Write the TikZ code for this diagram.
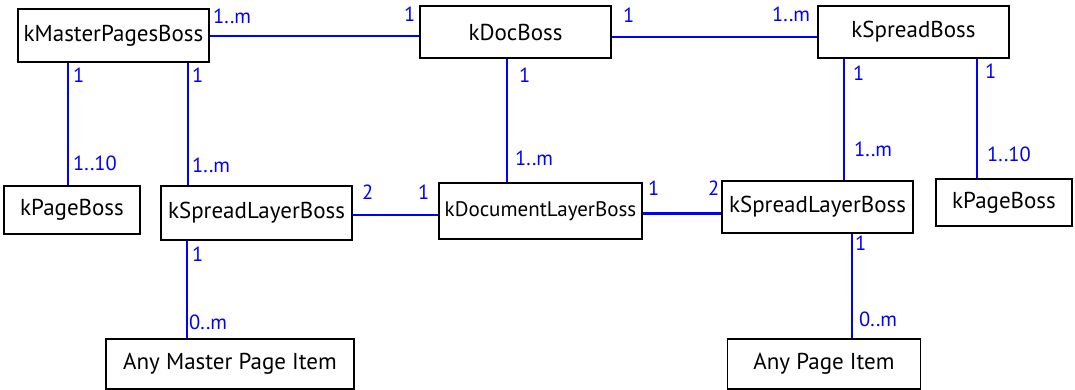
\documentclass[tikz,border=0pt]{standalone}
\usepackage{fontspec}
\setmainfont{PT Sans}
\begin{document}
\begin{tikzpicture}[x=1pt,y=-1pt,
  box/.style={draw=black, line width=1.8pt, inner sep=0pt, font=\fontsize{23}{27}\selectfont},
  conn/.style={draw=blue, line width=2pt},
  mult/.style={text=blue, anchor=base west, inner sep=0pt, font=\fontsize{20.5}{24}\selectfont}]
\useasboundingbox (0,0) rectangle (1075,390);
% boxes
\node[box, minimum width=191pt, minimum height=53pt] (mp) at (113.5,35.5) {kMasterPagesBoss};
\node[box, minimum width=191pt, minimum height=52pt] (doc) at (515.5,32) {kDocBoss};
\node[box, minimum width=191pt, minimum height=52pt] (sp) at (913.5,32) {kSpreadBoss};
\node[box, minimum width=136pt, minimum height=48pt] (pb1) at (72,210) {kPageBoss};
\node[box, minimum width=191pt, minimum height=54pt] (slb1) at (256.5,213) {kSpreadLayerBoss};
\node[box, minimum width=203pt, minimum height=56pt, font=\fontsize{21}{25}\selectfont] (dlb) at (540.5,211) {kDocumentLayerBoss};
\node[box, minimum width=191pt, minimum height=52pt] (slb2) at (817.5,207) {kSpreadLayerBoss};
\node[box, minimum width=136pt, minimum height=47pt] (pb2) at (1004,202.5) {kPageBoss};
\node[box, minimum width=248pt, minimum height=50pt] (ampi) at (230,364) {Any Master Page Item};
\node[box, minimum width=193pt, minimum height=50pt] (api) at (824,364) {Any Page Item};
% x positions of vertical connectors
\coordinate (xa) at (68,0);
\coordinate (xb) at (188,0);
\coordinate (xc) at (507,0);
\coordinate (xd) at (844,0);
\coordinate (xe) at (977,0);
\coordinate (xf) at (187,0);
\coordinate (xg) at (852,0);
% connectors
\draw[conn] ([yshift=-0.5pt]mp.east) -- ([yshift=-0.5pt]doc.west |- mp.east);
\draw[conn] ([yshift=-5pt]doc.east) -- ([yshift=-5pt]sp.west);
\draw[conn] (mp.south -| xa) -- (pb1.north -| xa);
\draw[conn] (mp.south -| xb) -- (slb1.north -| xb);
\draw[conn] (doc.south -| xc) -- (dlb.north -| xc);
\draw[conn] (sp.south -| xd) -- (slb2.north -| xd);
\draw[conn] (sp.south -| xe) -- (pb2.north -| xe);
\draw[conn] ([yshift=-2pt]slb1.east) -- ([yshift=-2pt]slb1.east -| dlb.west);
\draw[conn, line width=3pt] ([yshift=-2pt]dlb.east) -- ([yshift=-2pt]dlb.east -| slb2.west);
\draw[conn] (slb1.south -| xf) -- (ampi.north -| xf);
\draw[conn] (slb2.south -| xg) -- (api.north -| xg);
% multiplicities
\node[mult] (m1) at (213,24) {1..m};
\node[mult] (m2) at (404,22) {1};
\node[mult] (m3) at (623,23) {1};
\node[mult] (m4) at (772,22) {1..m};
\node[mult] (m5) at (73,83) {1};
\node[mult] (m6) at (192,83) {1};
\node[mult] (m7) at (519,83) {1};
\node[mult] (m8) at (853,81) {1};
\node[mult] (m9) at (985,79) {1};
\node[mult] (m10) at (73,171) {1..10};
\node[mult] (m11) at (192,173) {1..m};
\node[mult] (m12) at (515,165) {1..m};
\node[mult] (m13) at (854,157) {1..m};
\node[mult] (m14) at (987,162) {1..10};
\node[mult] (m15) at (362,200) {2};
\node[mult] (m16) at (418,200) {1};
\node[mult] (m17) at (648,195) {1};
\node[mult] (m18) at (708,195) {2};
\node[mult] (m19) at (192,261) {1};
\node[mult] (m20) at (189,329) {0..m};
\node[mult] (m21) at (855,250) {1};
\node[mult] (m22) at (859,326) {0..m};
\end{tikzpicture}
\end{document}
